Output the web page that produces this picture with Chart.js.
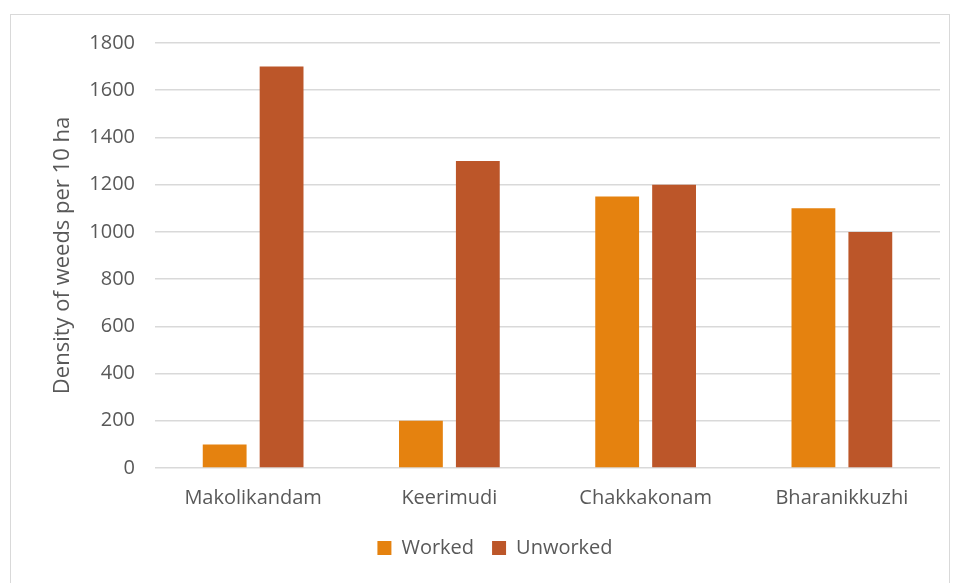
<!DOCTYPE html>
<html>
<head>
<meta charset="utf-8">
<script src="https://cdn.jsdelivr.net/npm/chart.js@4/dist/chart.umd.min.js"></script>
<style>
  html, body { margin: 0; padding: 0; background: #fff; }
  #wrap { position: relative; width: 956px; height: 583px; }
  #frame {
    position: absolute; left: 10px; top: 14px; width: 940px; height: 580px;
    border: 1px solid #d9d9d9; box-sizing: border-box; pointer-events: none;
  }
</style>
</head>
<body>
<div id="wrap">
  <canvas id="my-chart" width="956" height="583"></canvas>
  <div id="frame"></div>
</div>
<script>
const villages = ["Makolikandam", "Keerimudi", "Chakkakonam", "Bharanikkuzhi"];
const worked = [100, 200, 1150, 1100];
const unworked = [1700, 1300, 1200, 1000];
const yTicks = [0, 200, 400, 600, 800, 1000, 1200, 1400, 1600, 1800];

const textColor = "#595959";
const fontFamily = "'Open Sans', 'Liberation Sans', sans-serif";

const ctx = document.getElementById("my-chart");

new Chart(ctx, {
  type: "bar",
  data: {
    labels: villages,
    datasets: [
      {
        label: "Worked",
        data: worked,
        backgroundColor: "#E5820F",
        categoryPercentage: 0.58,
        barPercentage: 0.77,
      },
      {
        label: "Unworked",
        data: unworked,
        backgroundColor: "#BC5629",
        categoryPercentage: 0.58,
        barPercentage: 0.77,
      },
    ],
  },
  options: {
    responsive: false,
    animation: false,
    layout: {
      padding: { left: 50, right: 16, top: 43, bottom: 15 },
    },
    plugins: {
      tooltip: { enabled: false },
      legend: {
        position: "bottom",
        labels: {
          color: textColor,
          font: { family: fontFamily, size: 20 },
          boxWidth: 14,
          boxHeight: 14,
          padding: 18,
        },
      },
    },
    scales: {
      x: {
        grid: { display: false },
        border: { display: false },
        ticks: {
          color: textColor,
          font: { family: fontFamily, size: 20 },
          padding: 10,
        },
      },
      y: {
        min: 0,
        max: yTicks[yTicks.length - 1],
        afterBuildTicks: (scale) => {
          scale.ticks = yTicks.map((v) => ({ value: v }));
        },
        afterFit: (scale) => {
          scale.width = 105;
        },
        grid: { color: "#d9d9d9", lineWidth: 1.5, drawTicks: false },
        border: { display: false },
        ticks: {
          color: textColor,
          font: { family: fontFamily, size: 20 },
          padding: 20,
          callback: (v) => String(v),
        },
        title: {
          display: true,
          text: "Density of weeds per 10 ha",
          color: textColor,
          font: { family: fontFamily, size: 22 },
          padding: 0,
        },
      },
    },
  },
});
</script>
</body>
</html>
